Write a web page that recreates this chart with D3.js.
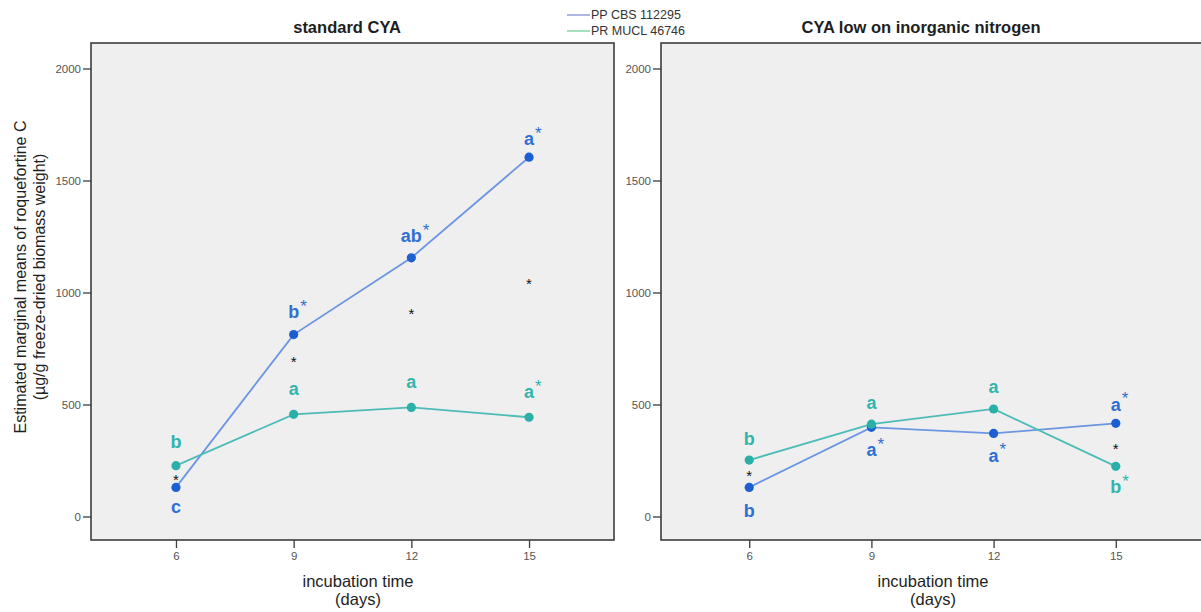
<!DOCTYPE html>
<html>
<head>
<meta charset="utf-8">
<script src="https://cdn.jsdelivr.net/npm/d3@7/dist/d3.min.js"></script>
<style>
  html, body { margin: 0; padding: 0; background: #ffffff; }
  svg { display: block; }
  text { font-family: "Liberation Sans", Arial, sans-serif; }
</style>
</head>
<body>
<svg id="chart" width="1201" height="612"></svg>
<script>
// Incubation days (x categories) and y-axis ticks
const days = [6, 9, 12, 15];
const yTicks = [0, 500, 1000, 1500, 2000];

// Estimated marginal means of roquefortine C (µg/g freeze-dried biomass weight)
const ppStandard = [130, 812, 1155, 1604];
const prStandard = [227, 456, 487, 443];
const ppLowN = [130, 398, 371, 416];
const prLowN = [252, 412, 480, 224];

const seriesNames = ["PP CBS 112295", "PR MUCL 46746"];
const panelTitles = ["standard CYA", "CYA low on inorganic nitrogen"];

// Significance letters: day, series index, letter, starred, anchor value
const lettersStandard = [
  [6, 1, "b", false, 304], [6, 0, "c", false, 17],
  [9, 1, "a", false, 542], [9, 0, "b", true, 886],
  [12, 1, "a", false, 572], [12, 0, "ab", true, 1225],
  [15, 1, "a", true, 528], [15, 0, "a", true, 1658]
];
const lettersLowN = [
  [6, 1, "b", false, 319], [6, 0, "b", false, 0],
  [9, 1, "a", false, 480], [9, 0, "a", true, 270],
  [12, 1, "a", false, 553], [12, 0, "a", true, 245],
  [15, 0, "a", true, 472], [15, 1, "b", true, 104]
];
// Between-strain differences (black asterisks): day, value
const diffStandard = [[6, 178], [9, 708], [12, 919], [15, 1053]];
const diffLowN = [[6, 196], [15, 319]];

const lineColors = ["#6c95e2", "#4dbcb7"];
const dotColors = ["#1d5fd1", "#2bb0a9"];
const labelColors = ["#2f6fd3", "#33b4ad"];
const legendColors = ["#97a6de", "#8edba9"];

const svg = d3.select("#chart");

const y = d3.scaleLinear().domain([0, 2000]).range([516.5, 68.5]);

function drawPanel(opts) {
  const { x0, x1, top, bottom, series, letters, diffs, title, titleX, axisTitleX } = opts;
  const g = svg.append("g");
  const x = d3.scalePoint().domain(days).range([x0, x1]).padding(0.722);

  g.append("rect")
    .attr("x", x0).attr("y", top)
    .attr("width", x1 - x0).attr("height", bottom - top)
    .attr("fill", "#efefef")
    .attr("stroke", "#3c3c3c").attr("stroke-width", 1.6);

  // y axis
  const ya = g.append("g").attr("transform", `translate(${x0},0)`)
    .call(d3.axisLeft(y).tickValues(yTicks).tickSize(8).tickPadding(2).tickFormat(d3.format("d")));
  ya.select(".domain").remove();
  ya.selectAll(".tick line").attr("stroke", "#3c3c3c").attr("stroke-width", 1.3);
  ya.selectAll(".tick text").attr("fill", "#555").style("font-size", "11.5px")
    .style("font-family", "'Liberation Sans', Arial, sans-serif");

  // x axis
  const xa = g.append("g").attr("transform", `translate(0,${bottom})`)
    .call(d3.axisBottom(x).tickSize(8).tickPadding(4));
  xa.select(".domain").remove();
  xa.selectAll(".tick line").attr("stroke", "#3c3c3c").attr("stroke-width", 1.3);
  xa.selectAll(".tick text").attr("fill", "#555").style("font-size", "11.5px")
    .style("font-family", "'Liberation Sans', Arial, sans-serif");

  // lines and points
  const line = d3.line().x((d, i) => x(days[i])).y(d => y(d));
  series.forEach((vals, si) => {
    g.append("path").datum(vals)
      .attr("d", line).attr("fill", "none")
      .attr("stroke", lineColors[si]).attr("stroke-width", 1.8);
  });
  series.forEach((vals, si) => {
    g.selectAll(null).data(vals).enter().append("circle")
      .attr("cx", (d, i) => x(days[i])).attr("cy", d => y(d))
      .attr("r", 4.6).attr("fill", dotColors[si]);
  });

  // letters
  letters.forEach(([day, si, txt, starred, v]) => {
    const t = g.append("text")
      .attr("x", x(day)).attr("y", y(v))
      .attr("text-anchor", "middle")
      .attr("fill", labelColors[si])
      .style("font-size", "18px").style("font-weight", "bold")
      .text(txt);
    if (starred) {
      const w = t.node().getComputedTextLength();
      g.append("text")
        .attr("x", x(day) + w / 2 + 1).attr("y", y(v) - 6.5)
        .attr("fill", labelColors[si])
        .style("font-size", "17px")
        .text("*");
    }
  });

  // between-strain asterisks
  diffs.forEach(([day, v]) => {
    g.append("text")
      .attr("x", x(day)).attr("y", y(v)).attr("dy", "0.58em")
      .attr("text-anchor", "middle").attr("fill", "#111")
      .style("font-size", "15px")
      .text("*");
  });

  // panel title
  svg.append("text").attr("x", titleX).attr("y", 33)
    .attr("text-anchor", "middle").attr("fill", "#1e1e1e")
    .style("font-size", "16.5px").style("font-weight", "bold")
    .text(title);

  // x axis title
  const xt = svg.append("text").attr("text-anchor", "middle").attr("fill", "#1e1e1e")
    .style("font-size", "16.5px");
  xt.append("tspan").attr("x", axisTitleX).attr("y", 587).text("incubation time");
  xt.append("tspan").attr("x", axisTitleX).attr("y", 605).text("(days)");
}

drawPanel({
  x0: 91, x1: 614, top: 43, bottom: 540,
  series: [ppStandard, prStandard],
  letters: lettersStandard, diffs: diffStandard,
  title: panelTitles[0], titleX: 347, axisTitleX: 358
});
drawPanel({
  x0: 661, x1: 1204, top: 43, bottom: 540,
  series: [ppLowN, prLowN],
  letters: lettersLowN, diffs: diffLowN,
  title: panelTitles[1], titleX: 921, axisTitleX: 933
});

// y axis title (two lines, rotated)
const yt = svg.append("text")
  .attr("transform", "translate(0,277) rotate(-90)")
  .attr("text-anchor", "middle").attr("fill", "#1e1e1e")
  .style("font-size", "16px");
yt.append("tspan").attr("x", 0).attr("y", 26).text("Estimated marginal means of roquefortine C");
yt.append("tspan").attr("x", 0).attr("y", 45).text("(µg/g freeze-dried biomass weight)");

// legend
const legend = svg.append("g");
seriesNames.forEach((name, i) => {
  const ly = 15 + i * 16;
  legend.append("line")
    .attr("x1", 567).attr("x2", 590).attr("y1", ly).attr("y2", ly)
    .attr("stroke", legendColors[i]).attr("stroke-width", 1.6);
  legend.append("text")
    .attr("x", 591).attr("y", ly).attr("dy", "0.35em")
    .attr("fill", "#333").style("font-size", "12.5px")
    .text(name);
});
</script>
</body>
</html>
